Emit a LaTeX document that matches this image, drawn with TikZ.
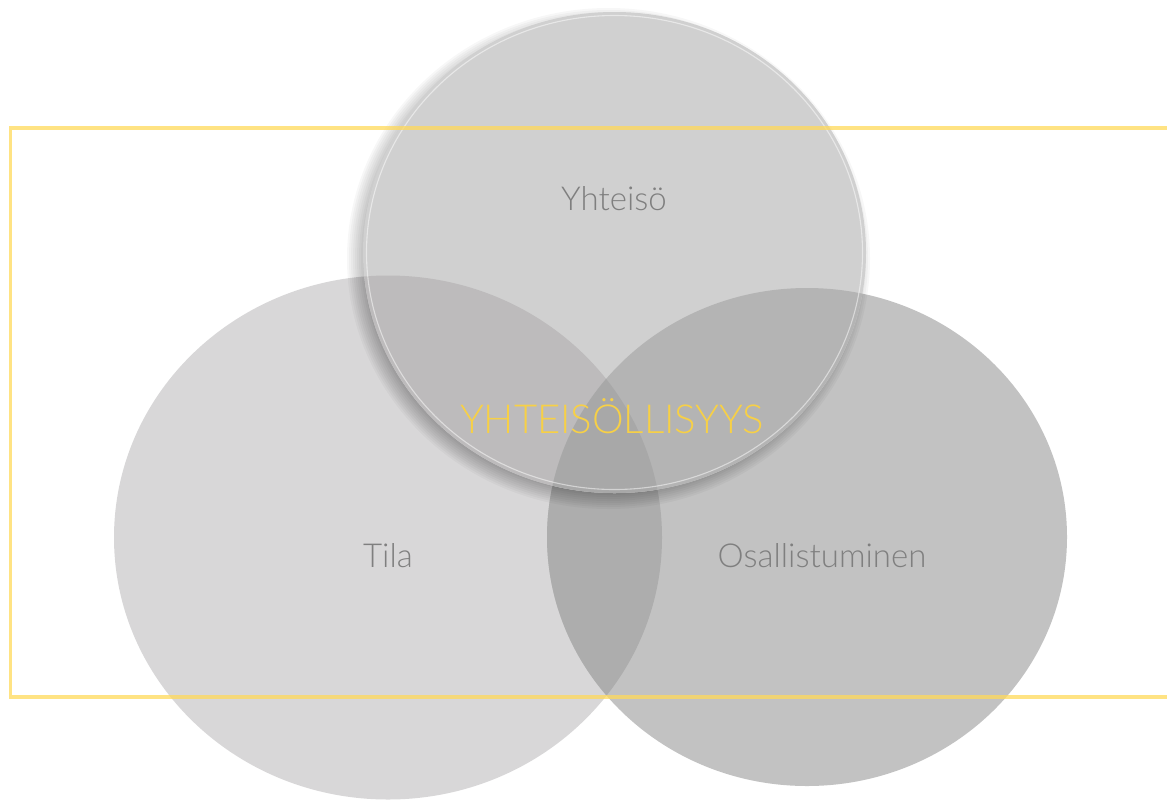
\documentclass[tikz,border=0pt]{standalone}
\usepackage{fontspec}
\setmainfont{Lato Light}
\definecolor{cL}{HTML}{D8D7D8}
\definecolor{cR}{HTML}{C2C2C2}
\definecolor{cT}{HTML}{D0D0D0}
\definecolor{cLR}{HTML}{ADADAD}
\definecolor{cTL}{HTML}{BDBBBC}
\definecolor{cTR}{HTML}{B4B4B4}
\definecolor{cTLR}{HTML}{A8A8A8}
\definecolor{frameY}{HTML}{FFD95A}
\definecolor{textY}{HTML}{F7D046}
\definecolor{textG}{HTML}{7F7F7F}
\tikzset{
  lbl/.style={text=textG, font=\fontsize{33}{36}\selectfont, anchor=base, inner sep=0pt},
  mainlbl/.style={text=textY, font=\fontsize{40}{44}\selectfont, anchor=base, inner sep=0pt},
  shadowlayer/.style={fill=black, fill opacity=0.032},
  Tshape/.style={x radius=251.5pt, y radius=240.5pt},
  Lshape/.style={x radius=274pt, y radius=262pt},
  Rshape/.style={x radius=260pt, y radius=249pt}
}
\begin{document}
\begin{tikzpicture}[x=1pt,y=-1pt]
\useasboundingbox (0,0) rectangle (1167,801);
\coordinate (T) at (614.5,252.5);
\coordinate (TS) at (608.5,258.5);
\coordinate (L) at (388,537.5);
\coordinate (R) at (807,537);
% bottom circles
\fill[cL] (L) ellipse [Lshape];
\fill[cR] (R) ellipse [Rshape];
\begin{scope}
  \clip (L) ellipse [Lshape];
  \fill[cLR] (R) ellipse [Rshape];
\end{scope}
% soft shadow of top circle
\foreach \k in {0,...,9}{
  \pgfmathsetmacro{\dr}{10-2*\k}
  \fill[shadowlayer] (TS) ellipse [x radius=251.5pt+\dr pt, y radius=240.5pt+\dr pt];
}
% top circle
\fill[cT] (T) ellipse [Tshape];
\begin{scope}
  \clip (T) ellipse [Tshape];
  \fill[cTL] (L) ellipse [Lshape];
  \fill[cTR] (R) ellipse [Rshape];
  \clip (L) ellipse [Lshape];
  \fill[cTLR] (R) ellipse [Rshape];
\end{scope}
\draw[white, opacity=0.5, line width=1.1pt] (T) ellipse [x radius=248pt, y radius=237pt];
% frame
\draw[frameY, opacity=0.75, line width=3.5pt] (1175,128) -- (10.5,128) -- (10.5,697) -- (1175,697);
% labels
\node[lbl] (yhteiso) at (614,210) {Yhteisö};
\node[lbl] (tila) at (388,567) {Tila};
\node[lbl] (osall) at (822,567) {Osallistuminen};
\node[mainlbl] (main) at (612,433) {YHTEISÖLLISYYS};
\end{tikzpicture}
\end{document}
